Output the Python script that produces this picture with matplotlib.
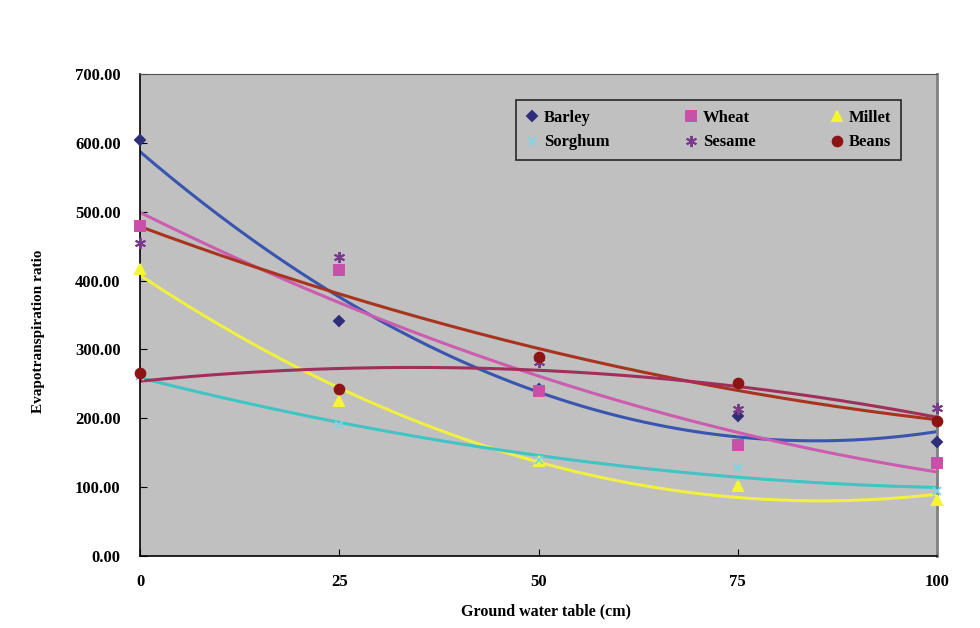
import numpy as np
import matplotlib
matplotlib.use("Agg")
import matplotlib.pyplot as plt
from matplotlib.ticker import FormatStrFormatter

# data
depth = [0, 25, 50, 75, 100]
barley = [604, 341, 242, 203, 165]
wheat = [479, 415, 240, 161, 135]
millet = [417, 225, 138, 102, 81]
sorghum = [262, 190, 139, 128, 94]
sesame = [455, 434, 282, 213, 215]
beans = [266, 242, 289, 251, 196]

names = ['Barley', 'Wheat', 'Millet', 'Sorghum', 'Sesame', 'Beans']
series = [barley, wheat, millet, sorghum, sesame, beans]
markers = ['D', 's', '^', 'x', (6, 2, 0), 'o']
msizes = [5, 7, 7.5, 6, 8, 7]
mcolors = ['#2e2e7a', '#c850a8', '#f5f532', '#80d4e8', '#7a3a8c', '#8c1414']
lcolors = ['#3a55b0', '#cc5cb0', '#f0f040', '#40c4c4', '#a8341e', '#a0305a']

plt.rcParams['font.family'] = ['Liberation Serif', 'DejaVu Serif']
plt.rcParams['font.weight'] = 'bold'

fig = plt.figure(figsize=(9.8, 6.28), dpi=100)
ax = fig.add_axes([0.143, 0.1146, 0.813, 0.7675])
ax.set_facecolor('#c0c0c0')

xs = np.linspace(0, 100, 200)
handles = []
for name, ys, mk, ms, mc, lc in zip(names, series, markers, msizes, mcolors, lcolors):
    # Excel style 2nd order polynomial trendline
    coef = np.polyfit(depth, ys, 2)
    ax.plot(xs, np.polyval(coef, xs), color=lc, lw=2.2, zorder=2)
    h, = ax.plot(depth, ys, linestyle='none', marker=mk, markersize=ms,
                 color=mc, markeredgecolor=mc, markeredgewidth=1.4,
                 label=name, clip_on=False, zorder=3)
    handles.append(h)

ax.set_xlim(0, 100)
ax.set_ylim(0, 700)
ax.set_xticks(depth)
ax.set_yticks(np.arange(0, 701, 100))
ax.yaxis.set_major_formatter(FormatStrFormatter('%.2f'))
ax.tick_params(axis='both', direction='in', length=5, labelsize=12)
ax.tick_params(axis='x', pad=13)
ax.tick_params(axis='y', pad=14)

for s in ['left', 'bottom']:
    ax.spines[s].set_color('black')
    ax.spines[s].set_linewidth(1.2)
ax.spines['top'].set_color('#505050')
ax.spines['right'].set_color('#808080')
ax.spines['right'].set_linewidth(2)

ax.set_xlabel('Ground water table (cm)', fontsize=11.5, fontweight='bold')
ax.xaxis.set_label_coords(0.51, -0.098)
ax.set_ylabel('Evapotranspiration ratio', fontsize=11, fontweight='bold')
ax.yaxis.set_label_coords(-0.119, 0.467)

# ncol=3 fills column-wise, reorder so rows read like the reference
order = [0, 3, 1, 4, 2, 5]
leg = ax.legend([handles[i] for i in order], [names[i] for i in order],
                ncol=3, loc='upper right', bbox_to_anchor=(0.955, 0.946),
                borderaxespad=0, frameon=True, fancybox=False,
                facecolor='#c0c0c0', edgecolor='black',
                prop={'size': 12, 'weight': 'bold'},
                handlelength=0.8, handletextpad=0.3, columnspacing=4.5,
                borderpad=0.6, labelspacing=0.5)
leg.get_frame().set_linewidth(1.2)

fig.savefig('out.png', dpi=100, facecolor='white')
